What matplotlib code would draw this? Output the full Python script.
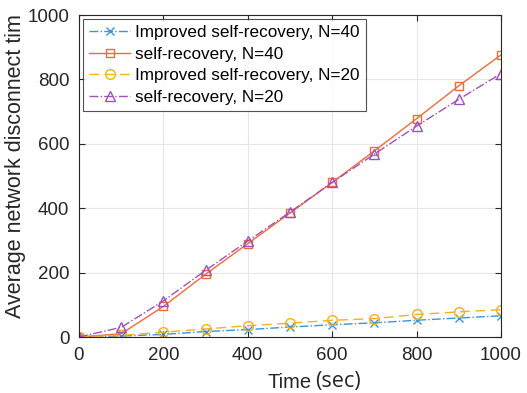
import matplotlib
matplotlib.use("Agg")
import matplotlib.pyplot as plt

time = [0, 100, 200, 300, 400, 500, 600, 700, 800, 900, 1000]
imp40 = [0, 3, 8, 17, 23, 31, 38, 44, 52, 59, 66]
self40 = [0, 10, 95, 195, 290, 385, 480, 578, 678, 780, 876]
imp20 = [0, 5, 15, 25, 35, 43, 52, 57, 70, 78, 85]
self20 = [0, 30, 112, 207, 298, 388, 480, 568, 655, 738, 818]
labels = ["Improved self-recovery, N=40", "self-recovery, N=40",
          "Improved self-recovery, N=20", "self-recovery, N=20"]
xticks = [0, 200, 400, 600, 800, 1000]
yticks = [0, 200, 400, 600, 800, 1000]

plt.rcParams['font.family'] = ['Liberation Sans', 'DejaVu Sans']
fig = plt.figure(figsize=(5.27, 3.93), dpi=100)
ax = fig.add_axes([79/527, 1-337/393, (501-79)/527, (337-15)/393])

c_blue, c_orange, c_yellow, c_purple = '#3C94D8', '#EE6A3A', '#F2B21E', '#9E52B8'
ax.plot(time, imp40, color=c_blue, ls='-.', lw=1.0, marker='x', ms=6, mew=1.0, label=labels[0])
ax.plot(time, self40, color=c_orange, ls='-', lw=1.0, marker='s', ms=6, mfc='none', mew=1.0, label=labels[1])
ax.plot(time, imp20, color=c_yellow, ls=(0, (7, 4)), lw=1.0, marker='o', ms=7, mfc='none', mew=1.0, label=labels[2])
ax.plot(time, self20, color=c_purple, ls='-.', lw=1.0, marker='^', ms=7, mfc='none', mew=1.0, label=labels[3])

ax.set_xlim(0, 1000)
ax.set_ylim(0, 1000)
ax.set_xticks(xticks)
ax.set_yticks(yticks)
ax.grid(True, color='#e6e6e6', lw=0.8)
ax.set_axisbelow(True)
for s in ax.spines.values():
    s.set_color('#262626')
    s.set_linewidth(0.8)
ax.tick_params(direction='in', length=4, labelsize=13.5, colors='#262626', top=True, right=True,
               labeltop=False, labelright=False, pad=7)

leg = ax.legend(loc='upper left', fontsize=12.3, frameon=True, fancybox=False,
                edgecolor='#262626', handlelength=2.4, handletextpad=0.3,
                borderpad=0.35, labelspacing=0.38, borderaxespad=0.25)
leg.get_frame().set_linewidth(0.8)

fig.text(312/527, 1-382/393, "Time", fontsize=14.5, color='#262626', ha='right', va='center')
fig.text(315/527, 1-382/393, "(sec)", fontsize=15.5, color='#262626', ha='left', va='center',
         family=['Open Sans', 'DejaVu Sans'])
fig.text(16/527, 1-318/393, "Average network disconnect tim", fontsize=15.5, color='#262626',
         rotation=90, ha='center', va='bottom')

fig.savefig("out.png", dpi=100)
